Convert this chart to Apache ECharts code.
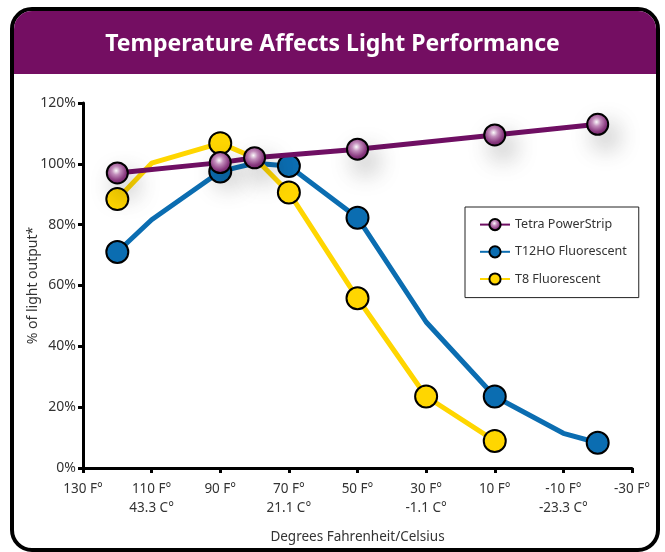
<!DOCTYPE html>
<html>
<head>
<meta charset="utf-8">
<script src="https://cdn.jsdelivr.net/npm/echarts@6/dist/echarts.min.js"></script>
<style>
html,body{margin:0;padding:0;background:#fff;}
#chart{width:665px;height:552px;}
</style>
</head>
<body>
<div id="chart"></div>
<script>
// Temperatures in °F (category axis, left = warm)
const categories = ['130','120','110','100','90','80','70','60','50','40','30','20','10','0','-10','-20','-30'];
// Celsius second line for some tick labels
const celsiusLabels = ['', '', '43.3 C°', '', '', '', '21.1 C°', '', '', '', '-1.1 C°', '', '', '', '-23.3 C°', '', ''];
// % of light output
const tetra = [null, 97, null, null, 100.4, 102, null, null, 104.8, null, null, null, 109.5, null, null, 113, null];
const t12ho = [null, 71, 81.6, null, 97.5, 100.2, 99.3, null, 82.3, null, 48, null, 23.5, null, 11.4, 8.3, null];
const t8 = [null, 88.4, 100.2, null, 106.8, 102, 90.6, null, 55.8, null, 23.5, null, 8.9, null, null, null, null];
// points that are line bends only (no marker)
const t12hoBends = ['110', '80', '30', '-10'];
const t8Bends = ['110', '80'];
const yTicks = [0, 20, 40, 60, 80, 100, 120];

const FONT = 'Noto Sans';
const PURPLE = '#6f0f63';
const BLUE = '#0b6db1';
const YELLOW = '#ffd600';

function buildData(values, bends) {
  return values.map((v, i) => {
    if (v === null) return null;
    if (bends.indexOf(categories[i]) >= 0) return { value: v, symbol: 'none' };
    return v;
  });
}

const purpleGrad = {
  type: 'radial', x: 0.45, y: 0.4, r: 0.6,
  colorStops: [
    { offset: 0, color: '#ffffff' },
    { offset: 0.3, color: '#c690bf' },
    { offset: 0.7, color: '#8d3c83' },
    { offset: 1, color: '#6c1d62' }
  ]
};

const chart = echarts.init(document.getElementById('chart'), null, { renderer: 'canvas' });
chart.setOption({
  animation: false,
  backgroundColor: '#fff',
  textStyle: { fontFamily: FONT },
  graphic: [
    { type: 'rect', z: -10, shape: { x: 12, y: 9, width: 646, height: 541, r: 20 },
      style: { fill: '#fff', stroke: '#000', lineWidth: 4 } },
    { type: 'rect', z: -9, shape: { x: 14, y: 11, width: 642, height: 63, r: [18, 18, 0, 0] },
      style: { fill: '#740e62' } }
  ],
  title: {
    text: 'Temperature Affects Light Performance',
    left: 'center',
    top: 28,
    textStyle: { color: '#fff', fontSize: 23, fontWeight: 'bold', fontFamily: FONT }
  },
  legend: {
    orient: 'vertical',
    left: 465,
    top: 207,
    padding: [11, 12, 12, 14],
    itemGap: 14,
    itemWidth: 30,
    itemHeight: 14,
    borderColor: '#222',
    borderWidth: 1,
    backgroundColor: '#fff',
    data: ['Tetra PowerStrip', 'T12HO Fluorescent', 'T8 Fluorescent'],
    textStyle: { fontSize: 12.5, color: '#333', fontFamily: FONT, padding: [0, 0, 0, 0] }
  },
  grid: { left: 83, right: 33, top: 103, bottom: 84 },
  xAxis: {
    type: 'category',
    data: categories,
    boundaryGap: false,
    name: 'Degrees Fahrenheit/Celsius',
    nameLocation: 'middle',
    nameGap: 62,
    nameMoveOverlap: false,
    nameTextStyle: { fontSize: 13.5, color: '#333', fontFamily: FONT },
    axisLine: { lineStyle: { color: '#000', width: 3 } },
    axisTick: { interval: 1, length: 5, lineStyle: { color: '#000', width: 3 } },
    axisLabel: {
      interval: 1,
      margin: 12,
      fontSize: 13.5,
      color: '#333',
      lineHeight: 19,
      fontFamily: FONT,
      formatter: function (v, i) {
        const c = celsiusLabels[i];
        return c ? v + ' F°\n' + c : v + ' F°';
      }
    },
    splitLine: { show: false }
  },
  yAxis: {
    type: 'value',
    min: 0,
    max: 120,
    interval: 20,
    name: '% of light output*',
    nameLocation: 'middle',
    nameGap: 43,
    nameMoveOverlap: false,
    nameTextStyle: { fontSize: 14, color: '#333', fontFamily: FONT },
    axisLine: { show: true, lineStyle: { color: '#000', width: 3 } },
    axisTick: { show: true, length: 5, lineStyle: { color: '#000', width: 3 } },
    axisLabel: { fontSize: 14, color: '#333', margin: 7, fontFamily: FONT, formatter: v => (yTicks.indexOf(v) >= 0 ? v + '%' : '') },
    splitLine: { show: false }
  },
  series: [
    {
      name: 'T12HO Fluorescent',
      type: 'line',
      z: 2,
      data: buildData(t12ho, t12hoBends),
      connectNulls: true,
      showAllSymbol: true,
      symbol: 'circle',
      symbolSize: 22,
      lineStyle: { color: BLUE, width: 5 },
      itemStyle: { color: BLUE, borderColor: '#000', borderWidth: 2 }
    },
    {
      name: 'T8 Fluorescent',
      type: 'line',
      z: 3,
      data: buildData(t8, t8Bends),
      connectNulls: true,
      showAllSymbol: true,
      symbol: 'circle',
      symbolSize: 22,
      lineStyle: { color: YELLOW, width: 5 },
      itemStyle: { color: YELLOW, borderColor: '#000', borderWidth: 2 }
    },
    {
      name: 'Tetra PowerStrip',
      type: 'line',
      z: 4,
      data: tetra,
      connectNulls: true,
      showAllSymbol: true,
      symbol: 'circle',
      symbolSize: 21,
      lineStyle: { color: PURPLE, width: 5 },
      itemStyle: {
        color: purpleGrad, borderColor: '#000', borderWidth: 2,
        shadowBlur: 24, shadowColor: 'rgba(0,0,0,0.28)', shadowOffsetX: 8, shadowOffsetY: 12
      }
    }
  ]
});
</script>
</body>
</html>
